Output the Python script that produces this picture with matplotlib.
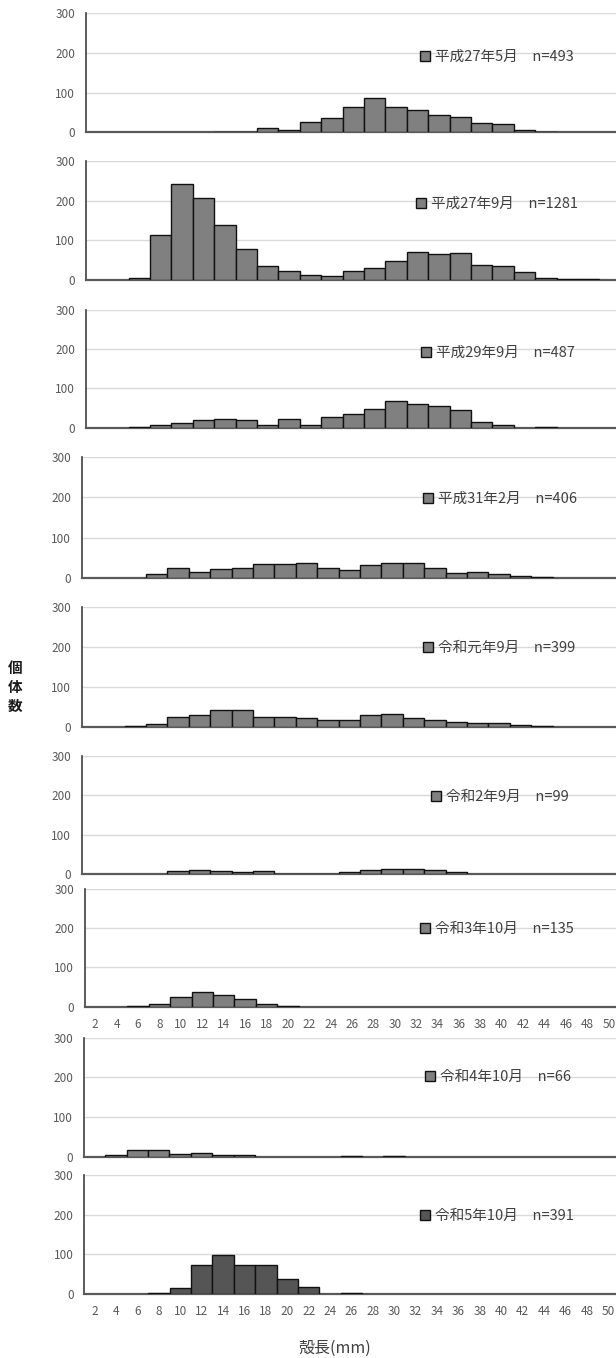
import numpy as np
import matplotlib
matplotlib.use("Agg")
import matplotlib.pyplot as plt

plt.rcParams['font.family'] = ['Noto Sans CJK JP', 'DejaVu Sans']

# shell length classes (mm), 2 mm bins
sizes = list(range(2, 51, 2))

# individuals per size class, one list per survey
h27_may = [0, 0, 0, 0, 0, 0, 1, 2, 11, 7, 26, 37, 63, 87, 65, 57, 44, 39, 24, 22, 6, 2, 0, 0, 0]
h27_sep = [0, 0, 6, 114, 243, 206, 140, 79, 36, 22, 13, 11, 22, 31, 47, 72, 66, 69, 39, 36, 19, 6, 2, 2, 0]
h29_sep = [0, 0, 3, 8, 13, 20, 23, 19, 8, 23, 8, 26, 35, 48, 68, 60, 54, 46, 14, 8, 0, 3, 0, 0, 0]
h31_feb = [0, 0, 0, 8, 25, 14, 22, 25, 33, 33, 36, 25, 19, 31, 36, 36, 25, 11, 14, 8, 3, 2, 0, 0, 0]
r1_sep = [0, 0, 3, 7, 24, 30, 43, 43, 24, 24, 22, 18, 18, 30, 33, 22, 18, 12, 10, 10, 5, 3, 0, 0, 0]
r2_sep = [0, 0, 0, 0, 7, 11, 8, 5, 8, 1, 1, 1, 5, 11, 13, 13, 10, 5, 0, 0, 0, 0, 0, 0, 0]
r3_oct = [0, 0, 3, 8, 25, 37, 31, 20, 8, 3, 0, 0, 0, 0, 0, 0, 0, 0, 0, 0, 0, 0, 0, 0, 0]
r4_oct = [0, 4, 17, 17, 7, 9, 4, 4, 0, 0, 0, 0, 2, 0, 2, 0, 0, 0, 0, 0, 0, 0, 0, 0, 0]
r5_oct = [0, 0, 0, 2, 14, 73, 99, 73, 73, 38, 17, 0, 2, 0, 0, 0, 0, 0, 0, 0, 0, 0, 0, 0, 0]

labels = ["平成27年5月　n=493", "平成27年9月　n=1281", "平成29年9月　n=487",
          "平成31年2月　n=406", "令和元年9月　n=399", "令和2年9月　n=99",
          "令和3年10月　n=135", "令和4年10月　n=66", "令和5年10月　n=391"]
series = [h27_may, h27_sep, h29_sep, h31_feb, r1_sep, r2_sep, r3_oct, r4_oct, r5_oct]

W, H = 616, 1358
fig = plt.figure(figsize=(W / 100, H / 100), dpi=100)

# panel frames in pixels: left, top(300), bottom(0)
frames = [(85.7, 13.3, 132.3), (85.7, 161.3, 280.0), (85.7, 309.7, 427.7),
          (81.7, 457.3, 577.7), (81.7, 607.3, 726.7), (81.7, 756.0, 874.0),
          (84.5, 889.0, 1006.7), (83.7, 1037.7, 1156.7), (84.0, 1175.3, 1294.0)]
# legend anchor (left of swatch, centre y) in pixels
leg_pos = [(420, 57), (416, 204), (421, 353), (423, 499), (423, 648),
           (431, 797), (420, 929), (425, 1077), (420, 1216)]

x = np.arange(len(sizes))
for i, (counts, lab) in enumerate(zip(series, labels)):
    left, top, bottom = frames[i]
    ax = fig.add_axes([left / W, 1 - bottom / H, 535 / W, (bottom - top) / H])
    c = np.array(counts)
    m = c > 0
    fill = '#555555' if i == 8 else '#808080'
    ax.bar(x[m], c[m], width=1.0, color=fill, edgecolor='#111111',
           linewidth=1.0, label=lab, zorder=3)
    ax.set_xlim(-0.5, len(sizes) - 0.5)
    ax.set_ylim(0, 300)
    ax.set_yticks([0, 100, 200, 300])
    ax.yaxis.grid(True, color='#d9d9d9', linewidth=1.0)
    ax.set_axisbelow(True)
    for s in ('top', 'right'):
        ax.spines[s].set_visible(False)
    ax.spines['left'].set_color('#404040')
    ax.spines['left'].set_linewidth(1.2)
    ax.spines['bottom'].set_color('#595959')
    ax.spines['bottom'].set_linewidth(1.6)
    ax.set_xticks(x)
    if i in (6, 8):
        ax.set_xticklabels([str(v) for v in sizes])
    else:
        ax.set_xticklabels([])
    ax.tick_params(axis='both', length=0, labelsize=8.5, labelcolor='#595959')
    ax.tick_params(axis='y', pad=7.5)
    ax.tick_params(axis='x', pad=8)

    lx, ly = leg_pos[i]
    ax.legend(loc='center left', bbox_to_anchor=(lx / W, 1 - ly / H),
              bbox_transform=fig.transFigure, frameon=False, fontsize=10.5,
              handlelength=0.7, handleheight=0.7, handletextpad=0.35,
              borderpad=0, borderaxespad=0, labelcolor='#404040')

fig.text(15 / W, 1 - 687 / H, '個\n体\n数', ha='center', va='center',
         fontsize=10.5, linespacing=1.25, color='#1a1a1a', fontweight='bold')
fig.text(335 / W, 1 - 1348 / H, '殻長(mm)', ha='center', va='center',
         fontsize=11.5, color='#404040')

fig.savefig('out.png', dpi=100)
